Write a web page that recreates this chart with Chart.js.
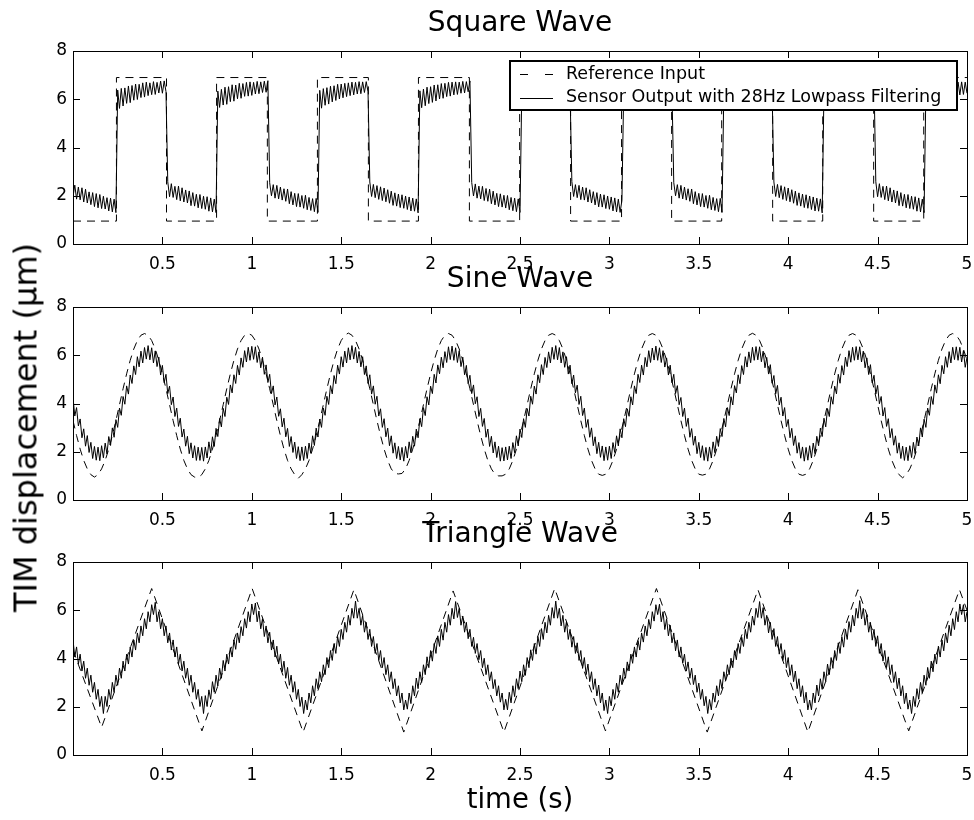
<!DOCTYPE html>
<html>
<head>
<meta charset="utf-8">
<title>TIM displacement</title>
<script src="https://cdn.jsdelivr.net/npm/chart.js"></script>
<style>
  html, body { margin: 0; padding: 0; background: #fff; }
  #page { position: relative; width: 974px; height: 820px; overflow: hidden; background: #fff; }
  #page canvas { position: absolute; left: 0; }
  #ylabel {
    position: absolute; left: -184.2px; top: 408.5px; width: 420px; height: 37px; line-height: 37px;
    text-align: center; white-space: nowrap; color: #000;
    font-family: 'DejaVu Sans', sans-serif; font-size: 32px;
    transform: rotate(-90deg);
  }
</style>
</head>
<body>
<div id="page">
  <canvas id="squareChart" width="974" height="280" style="top:0"></canvas>
  <canvas id="sineChart" width="974" height="280" style="top:256px"></canvas>
  <canvas id="triangleChart" width="974" height="309" style="top:511px"></canvas>
  <div id="ylabel">TIM displacement (μm)</div>
</div>
<script>
// axis ticks and labels
const timeTicks = [0.5, 1, 1.5, 2, 2.5, 3, 3.5, 4, 4.5, 5];
const dispTicks = [0, 2, 4, 6, 8];
const plotTitles = ['Square Wave', 'Sine Wave', 'Triangle Wave'];
const seriesNames = ['Reference Input', 'Sensor Output with 28Hz Lowpass Filtering'];

// sensor traces are sampled every 10 ms, the sine reference every 20 ms
const sensorStep = 0.01;
const sineRefStep = 0.02;

// square wave reference (corner points)
const squareRefTime = [0, 0.243, 0.243, 0.523, 0.523, 0.803, 0.803, 1.087, 1.087, 1.367, 1.367, 1.652, 1.652, 1.932, 1.932, 2.217, 2.217,
  2.498, 2.498, 2.783, 2.783, 3.068, 3.068, 3.348, 3.348, 3.628, 3.628, 3.913, 3.913, 4.193, 4.193, 4.478, 4.478, 4.758, 4.758, 5];
const squareRefValue = [0.95, 0.95, 6.9, 6.9, 0.95, 0.95, 6.9, 6.9, 0.95, 0.95, 6.9, 6.9, 0.95, 0.95, 6.9, 6.9, 0.95, 0.95,
  6.9, 6.9, 0.95, 0.95, 6.9, 6.9, 0.95, 0.95, 6.9, 6.9, 0.95, 0.95, 6.9, 6.9, 0.95, 0.95, 6.9, 6.9];

const squareSensor = [
  1.95, 2.44, 1.86, 2.36, 1.83, 2.33, 1.74, 2.27, 1.70, 2.16, 1.63, 2.13, 1.55, 2.09, 1.50, 2.05, 1.47, 1.98, 1.45, 1.92, 1.37, 1.90, 1.33, 1.86, 1.30,
  6.38, 5.62, 6.45, 5.72, 6.47, 5.83, 6.55, 5.86, 6.57, 5.96, 6.63, 5.99, 6.62, 6.07, 6.68, 6.09, 6.71, 6.15, 6.68, 6.19, 6.73, 6.20, 6.70, 6.26, 6.75, 6.25, 6.76, 6.32,
  2.58, 1.96, 2.50, 1.93, 2.39, 1.84, 2.40, 1.79, 2.33, 1.74, 2.24, 1.70, 2.20, 1.59, 2.13, 1.57, 2.06, 1.50, 2.05, 1.47, 1.98, 1.44, 1.96, 1.36, 1.91, 1.33, 1.86, 1.30,
  6.34, 5.66, 6.41, 5.76, 6.50, 5.79, 6.52, 5.90, 6.60, 5.92, 6.59, 6.02, 6.66, 6.04, 6.65, 6.12, 6.70, 6.13, 6.72, 6.16, 6.70, 6.22, 6.74, 6.23, 6.72, 6.28, 6.75, 6.29, 6.77,
  2.54, 2.00, 2.46, 1.90, 2.43, 1.87, 2.36, 1.82, 2.29, 1.77, 2.28, 1.67, 2.17, 1.62, 2.10, 1.55, 2.09, 1.53, 2.01, 1.48, 2.02, 1.42, 1.93, 1.39, 1.88, 1.34, 1.89, 1.31,
  6.37, 5.63, 6.44, 5.75, 6.48, 5.80, 6.54, 5.89, 6.56, 5.95, 6.62, 6.01, 6.63, 6.06, 6.66, 6.11, 6.68, 6.15, 6.71, 6.18, 6.70, 6.22, 6.73, 6.23, 6.72, 6.28, 6.73, 6.31,
  2.57, 1.97, 2.47, 1.92, 2.42, 1.85, 2.37, 1.80, 2.32, 1.75, 2.25, 1.69, 2.19, 1.60, 2.12, 1.57, 2.07, 1.51, 2.04, 1.48, 1.99, 1.43, 1.95, 1.37, 1.90, 1.36, 1.87, 1.29,
  6.35, 5.65, 6.42, 5.73, 6.50, 5.82, 6.52, 5.87, 6.59, 5.93, 6.60, 6.01, 6.65, 6.04, 6.66, 6.11, 6.70, 6.13, 6.71, 6.18, 6.72, 6.20, 6.71, 6.25, 6.74, 6.26, 6.73, 6.31, 6.76,
  2.55, 1.99, 2.49, 1.90, 2.40, 1.87, 2.39, 1.80, 2.30, 1.77, 2.27, 1.67, 2.19, 1.62, 2.10, 1.55, 2.08, 1.53, 2.02, 1.49, 2.01, 1.42, 1.93, 1.38, 1.90, 1.34, 1.87, 1.31,
  6.36, 5.64, 6.43, 5.74, 6.49, 5.81, 6.53, 5.88, 6.58, 5.94, 6.61, 6.00, 6.64, 6.05, 6.67, 6.10, 6.69, 6.14, 6.70, 6.17, 6.71, 6.21, 6.72, 6.24, 6.73, 6.27, 6.74, 6.30,
  2.59, 1.97, 2.46, 1.92, 2.43, 1.84, 2.36, 1.82, 2.33, 1.74, 2.25, 1.70, 2.17, 1.62, 2.13, 1.54, 2.07, 1.53, 2.04, 1.47, 1.99, 1.44, 1.95, 1.37, 1.91, 1.33, 1.86, 1.31, 1.81,
  6.38, 5.62, 6.45, 5.72, 6.47, 5.83, 6.55, 5.86, 6.57, 5.96, 6.63, 5.99, 6.62, 6.07, 6.68, 6.09, 6.71, 6.15, 6.68, 6.19, 6.73, 6.20, 6.70, 6.26, 6.75, 6.25, 6.76, 6.32,
  2.54, 2.00, 2.46, 1.90, 2.43, 1.87, 2.36, 1.82, 2.29, 1.77, 2.28, 1.67, 2.17, 1.62, 2.10, 1.55, 2.09, 1.53, 2.01, 1.48, 2.02, 1.42, 1.93, 1.39, 1.88, 1.34, 1.89, 1.31,
  6.37, 5.63, 6.44, 5.75, 6.48, 5.80, 6.54, 5.89, 6.56, 5.95, 6.62, 6.01, 6.63, 6.06, 6.66, 6.11, 6.68, 6.15, 6.71, 6.18, 6.70, 6.22, 6.73, 6.23, 6.72, 6.28, 6.73, 6.31,
  2.57, 1.97, 2.47, 1.92, 2.42, 1.85, 2.37, 1.80, 2.32, 1.75, 2.25, 1.69, 2.19, 1.60, 2.12, 1.57, 2.07, 1.51, 2.04, 1.48, 1.99, 1.43, 1.95, 1.37, 1.90, 1.36, 1.87, 1.29,
  6.34, 5.66, 6.41, 5.76, 6.50, 5.79, 6.52, 5.90, 6.60, 5.92, 6.59, 6.02, 6.66, 6.04, 6.65, 6.12, 6.70, 6.13, 6.72, 6.16, 6.70, 6.22, 6.74, 6.23, 6.72, 6.28, 6.75, 6.29, 6.77,
  2.58, 1.96, 2.50, 1.93, 2.39, 1.84, 2.40, 1.79, 2.33, 1.74, 2.24, 1.70, 2.20, 1.59, 2.13, 1.57, 2.06, 1.50, 2.05, 1.47, 1.98, 1.44, 1.96, 1.36, 1.91, 1.33, 1.86, 1.30,
  6.35, 5.65, 6.42, 5.73, 6.50, 5.82, 6.52, 5.87, 6.59, 5.93, 6.60, 6.01, 6.65, 6.04, 6.66, 6.11, 6.70, 6.13, 6.71, 6.18, 6.72, 6.20, 6.71, 6.25
];

const sineRef = [
  3.29, 2.67, 2.11, 1.64, 1.29, 1.05, 0.95,
  1.05, 1.29, 1.64, 2.11, 2.67, 3.29, 3.95, 4.61, 5.23, 5.79, 6.26, 6.61, 6.83, 6.90,
  6.83, 6.61, 6.26, 5.79, 5.23, 4.61, 3.95, 3.29, 2.67, 2.11, 1.64, 1.29, 1.05, 0.95,
  0.93,
  1.05, 1.29, 1.64, 2.11, 2.67, 3.29, 3.95, 4.61, 5.23, 5.79, 6.26, 6.61, 6.83, 6.90,
  6.83, 6.61, 6.26, 5.79, 5.23, 4.61, 3.95, 3.29, 2.67, 2.11, 1.64, 1.29, 1.05, 0.90,
  1.05, 1.29, 1.64, 2.11, 2.67, 3.29, 3.95, 4.61, 5.23, 5.79, 6.26, 6.61, 6.83, 6.92,
  6.83, 6.61, 6.26, 5.79, 5.23, 4.61, 3.95, 3.29, 2.67, 2.11, 1.64, 1.29, 1.10, 1.08,
  1.10, 1.29, 1.64, 2.11, 2.67, 3.29, 3.95, 4.61, 5.23, 5.79, 6.26, 6.61, 6.83, 6.90,
  6.83, 6.61, 6.26, 5.79, 5.23, 4.61, 3.95, 3.29, 2.67, 2.11, 1.64, 1.29, 1.07, 1.00,
  1.00,
  1.07, 1.29, 1.64, 2.11, 2.67, 3.29, 3.95, 4.61, 5.23, 5.79, 6.26, 6.61, 6.83, 6.90,
  6.83, 6.61, 6.26, 5.79, 5.23, 4.61, 3.95, 3.29, 2.67, 2.11, 1.64, 1.29, 1.07, 1.02,
  1.07, 1.29, 1.64, 2.11, 2.67, 3.29, 3.95, 4.61, 5.23, 5.79, 6.26, 6.61, 6.83, 6.90,
  6.83, 6.61, 6.26, 5.79, 5.23, 4.61, 3.95, 3.29, 2.67, 2.11, 1.64, 1.29, 1.07, 1.03,
  1.07, 1.29, 1.64, 2.11, 2.67, 3.29, 3.95, 4.61, 5.23, 5.79, 6.26, 6.61, 6.83, 6.91,
  6.83, 6.61, 6.26, 5.79, 5.23, 4.61, 3.95, 3.29, 2.67, 2.11, 1.64, 1.29, 1.07, 1.02,
  1.07, 1.29, 1.64, 2.11, 2.67, 3.29, 3.95, 4.61, 5.23, 5.79, 6.26, 6.61, 6.83, 6.90,
  6.83, 6.61, 6.26, 5.79, 5.23, 4.61, 3.95, 3.29, 2.67, 2.11, 1.64, 1.29, 1.05, 0.92,
  1.05, 1.29, 1.64, 2.11, 2.67, 3.29, 3.95, 4.61, 5.23, 5.79, 6.26, 6.61, 6.83, 6.90,
  6.83, 6.61, 6.26, 5.79
];

const sineSensor = [
  4.25, 3.48, 3.83, 3.07, 3.36, 2.58, 2.95, 2.23, 2.67, 1.97, 2.39, 1.72, 2.22, 1.65, 2.19,
  1.63, 2.25, 1.75, 2.36, 1.91, 2.63, 2.26, 2.99, 2.60, 3.33, 3.01, 3.81, 3.51, 4.29, 3.97, 4.73, 4.39, 5.18, 4.83, 5.56, 5.20, 5.94, 5.52, 6.17, 5.68, 6.32, 5.84, 6.40,
  5.81, 6.31, 5.68, 6.18, 5.53, 5.92, 5.18, 5.58, 4.86, 5.21, 4.41, 4.72, 3.95, 4.27, 3.46, 3.81, 3.05, 3.39, 2.61, 2.94, 2.23, 2.64, 1.92, 2.37, 1.74, 2.25, 1.64, 2.19, 1.64,
  2.18, 1.61, 2.20, 1.74, 2.41, 1.95, 2.62, 2.22, 2.97, 2.63, 3.38, 3.03, 3.80, 3.46, 4.26, 3.96, 4.77, 4.44, 5.19, 4.83, 5.58, 5.18, 5.89, 5.50, 6.19, 5.72, 6.33, 5.79, 6.37,
  5.83, 6.35, 5.70, 6.14, 5.48, 5.92, 5.21, 5.60, 4.87, 5.21, 4.41, 4.73, 3.94, 4.27, 3.47, 3.78, 3.03, 3.39, 2.62, 2.97, 2.22, 2.63, 1.97, 2.40, 1.72, 2.21, 1.63, 2.20,
  1.64, 2.23, 1.72, 2.36, 1.94, 2.66, 2.26, 2.98, 2.61, 3.35, 3.01, 3.81, 3.51, 4.30, 3.96, 4.74, 4.40, 5.16, 4.82, 5.59, 5.22, 5.94, 5.51, 6.17, 5.68, 6.31, 5.81, 6.40,
  5.84, 6.33, 5.68, 6.16, 5.52, 5.94, 5.20, 5.56, 4.83, 5.19, 4.39, 4.73, 3.97, 4.30, 3.48, 3.78, 3.01, 3.37, 2.62, 2.98, 2.25, 2.66, 1.94, 2.37, 1.72, 2.22, 1.66, 2.18,
  1.61, 2.22, 1.74, 2.41, 1.96, 2.64, 2.23, 2.94, 2.58, 3.37, 3.04, 3.83, 3.50, 4.28, 3.94, 4.72, 4.41, 5.21, 4.85, 5.60, 5.23, 5.92, 5.48, 6.15, 5.70, 6.35, 5.82, 6.38,
  5.79, 6.31, 5.70, 6.19, 5.53, 5.92, 5.19, 5.58, 4.82, 5.17, 4.41, 4.77, 3.99, 4.28, 3.46, 3.80, 3.05, 3.38, 2.60, 2.94, 2.22, 2.64, 1.95, 2.41, 1.76, 2.23, 1.61, 2.17, 1.62,
  2.20, 1.66, 2.23, 1.72, 2.38, 1.96, 2.66, 2.24, 2.94, 2.59, 3.37, 3.01, 3.79, 3.48, 4.30, 3.97, 4.72, 4.39, 5.19, 4.86, 5.61, 5.20, 5.91, 5.49, 6.14, 5.68, 6.33, 5.83, 6.40,
  5.81, 6.32, 5.68, 6.14, 5.50, 5.94, 5.22, 5.59, 4.82, 5.18, 4.44, 4.76, 3.96, 4.30, 3.50, 3.81, 3.01, 3.34, 2.60, 2.99, 2.25, 2.62, 1.92, 2.39, 1.77, 2.24, 1.63, 2.20,
  1.65, 2.23, 1.72, 2.38, 1.97, 2.66, 2.24, 2.95, 2.58, 3.37, 3.04, 3.78, 3.47, 4.28, 3.94, 4.73, 4.41, 5.21, 4.87, 5.59, 5.18, 5.91, 5.52, 6.19, 5.70, 6.30, 5.80, 6.38,
  5.79, 6.31, 5.70, 6.19, 5.51, 5.89, 5.18, 5.59, 4.86, 5.21, 4.41, 4.74, 3.95, 4.25, 3.46, 3.81, 3.05, 3.39, 2.60, 2.96, 2.27, 2.65, 1.92, 2.39, 1.76, 2.25, 1.64, 2.18,
  1.61, 2.20, 1.74, 2.41, 1.96, 2.64, 2.22, 2.96, 2.63, 3.38, 3.03, 3.83, 3.50, 4.28, 3.94, 4.74, 4.44, 5.19, 4.82, 5.57, 5.20, 5.94, 5.51, 6.14, 5.69, 6.33, 5.79, 6.36,
  5.81, 6.35, 5.73, 6.17, 5.48, 5.91, 5.22, 5.61, 4.84, 5.16, 4.40, 4.75, 3.94, 4.26, 3.48, 3.83, 3.04, 3.34, 2.58, 2.97, 2.26, 2.66, 1.94, 2.38, 1.73, 2.20, 1.61, 2.18,
  1.65, 2.25, 1.74, 2.36, 1.92, 2.64, 2.25, 2.98, 2.63, 3.39, 3.03, 3.79, 3.46, 4.28, 3.97, 4.72, 4.40, 5.21, 4.84, 5.57, 5.18, 5.92, 5.53, 6.19, 5.71, 6.33, 5.79, 6.36,
  5.81, 6.35, 5.72, 6.17, 5.48, 5.89, 5.20, 5.61, 4.85, 5.17, 4.39, 4.75, 3.99, 4.29, 3.48, 3.83, 3.05, 3.37, 2.58, 2.96, 2.27, 2.66, 1.94, 2.37, 1.72, 2.23, 1.64, 2.19,
  1.63, 2.25, 1.76, 2.39, 1.92, 2.61, 2.24, 2.99, 2.61, 3.35, 3.01, 3.81, 3.51, 4.29, 3.96, 4.77, 4.43, 5.19, 4.82, 5.58, 5.23, 5.94, 5.50, 6.15, 5.68, 6.33, 5.82, 6.35,
  5.79, 6.33, 5.72, 6.19, 5.50, 5.91
];

// triangle wave reference (corner points)
const triangleRefTime = [0, 0.16, 0.44, 0.721, 1.002, 1.287, 1.571, 1.85, 2.126, 2.41, 2.694, 2.978, 3.263, 3.547, 3.831, 4.11, 4.39, 4.674, 4.958, 5];
const triangleRefValue = [4.35, 1.15, 6.9, 1.0, 6.9, 0.95, 6.85, 0.95, 6.8, 0.95, 6.9, 1.0, 6.9, 0.95, 6.85, 0.95, 6.85, 1.0, 6.85, 6.0];

const triangleSensor = [
  4.77, 4.06, 4.48, 3.77, 4.18, 3.48, 3.89, 3.18, 3.60, 2.89, 3.31, 2.60, 3.01, 2.31, 2.72, 2.01, 2.43, 1.72,
  2.43, 2.01, 2.72, 2.31, 3.01, 2.60, 3.31, 2.89, 3.60, 3.18, 3.89, 3.48, 4.18, 3.77, 4.48, 4.06, 4.77, 4.35, 5.06, 4.65, 5.35, 4.94, 5.65, 5.23, 5.94, 5.52, 6.23, 5.82,
  6.33, 5.52, 5.94, 5.23, 5.65, 4.94, 5.35, 4.65, 5.06, 4.35, 4.77, 4.06, 4.48, 3.77, 4.18, 3.48, 3.89, 3.18, 3.60, 2.89, 3.31, 2.60, 3.01, 2.31, 2.72, 2.01, 2.43, 1.72,
  2.46, 2.01, 2.70, 2.31, 3.04, 2.60, 3.31, 2.86, 3.60, 3.18, 3.92, 3.48, 4.18, 3.77, 4.45, 4.06, 4.77, 4.38, 5.06, 4.65, 5.32, 4.94, 5.65, 5.26, 5.94, 5.52, 6.26, 5.82,
  6.30, 5.52, 5.97, 5.23, 5.65, 4.91, 5.35, 4.65, 5.09, 4.35, 4.77, 4.06, 4.51, 3.77, 4.18, 3.45, 3.89, 3.18, 3.63, 2.89, 3.31, 2.60, 3.04, 2.31, 2.72, 2.01, 2.40, 1.72, 2.28,
  1.87, 2.57, 2.16, 2.87, 2.45, 3.16, 2.75, 3.45, 3.04, 3.74, 3.33, 4.04, 3.62, 4.33, 3.92, 4.62, 4.21, 4.91, 4.50, 5.21, 4.79, 5.50, 5.09, 5.79, 5.38, 6.08, 5.67, 6.38,
  5.67, 6.08, 5.38, 5.79, 5.09, 5.50, 4.79, 5.21, 4.50, 4.91, 4.21, 4.62, 3.92, 4.33, 3.62, 4.04, 3.33, 3.74, 3.04, 3.45, 2.75, 3.16, 2.45, 2.87, 2.16, 2.57, 1.87, 2.28,
  1.90, 2.57, 2.13, 2.87, 2.45, 3.19, 2.75, 3.45, 3.01, 3.74, 3.33, 4.07, 3.62, 4.33, 3.89, 4.62, 4.21, 4.94, 4.50, 5.21, 4.76, 5.50, 5.09, 5.82, 5.38, 6.08, 5.64, 6.36,
  5.70, 6.08, 5.38, 5.76, 5.09, 5.50, 4.82, 5.21, 4.50, 4.88, 4.21, 4.62, 3.95, 4.33, 3.62, 4.01, 3.33, 3.74, 3.07, 3.45, 2.75, 3.13, 2.45, 2.87, 2.19, 2.57, 1.87, 2.31,
  1.87, 2.60, 2.16, 2.87, 2.42, 3.16, 2.75, 3.48, 3.04, 3.74, 3.30, 4.04, 3.62, 4.36, 3.92, 4.62, 4.18, 4.91, 4.50, 5.24, 4.79, 5.50, 5.06, 5.79, 5.38, 6.11, 5.67, 6.38,
  5.67, 6.08, 5.35, 5.79, 5.09, 5.53, 4.79, 5.21, 4.47, 4.91, 4.21, 4.65, 3.92, 4.33, 3.59, 4.04, 3.33, 3.77, 3.04, 3.45, 2.72, 3.16, 2.45, 2.90, 2.16, 2.57, 1.84, 2.28, 1.72,
  2.43, 2.04, 2.72, 2.31, 2.98, 2.60, 3.31, 2.92, 3.60, 3.18, 3.86, 3.48, 4.18, 3.80, 4.48, 4.06, 4.74, 4.35, 5.06, 4.68, 5.35, 4.94, 5.62, 5.23, 5.94, 5.55, 6.23, 5.82,
  6.25, 5.52, 5.94, 5.20, 5.65, 4.94, 5.38, 4.65, 5.06, 4.32, 4.77, 4.06, 4.48, 3.80, 4.18, 3.48, 3.86, 3.18, 3.60, 2.92, 3.31, 2.60, 2.98, 2.31, 2.72, 2.04, 2.43, 1.72, 2.30,
  1.87, 2.57, 2.19, 2.87, 2.45, 3.13, 2.75, 3.45, 3.07, 3.74, 3.33, 4.01, 3.62, 4.33, 3.95, 4.62, 4.21, 4.88, 4.50, 5.21, 4.82, 5.50, 5.09, 5.76, 5.38, 6.08, 5.70, 6.36,
  5.67, 6.11, 5.38, 5.79, 5.06, 5.50, 4.79, 5.24, 4.50, 4.91, 4.18, 4.62, 3.92, 4.36, 3.62, 4.04, 3.30, 3.74, 3.04, 3.48, 2.75, 3.16, 2.42, 2.87, 2.16, 2.60, 1.87, 2.28,
  1.87, 2.57, 2.16, 2.90, 2.45, 3.16, 2.72, 3.45, 3.04, 3.77, 3.33, 4.04, 3.59, 4.33, 3.92, 4.65, 4.21, 4.91, 4.47, 5.21, 4.79, 5.53, 5.09, 5.79, 5.35, 6.08, 5.67, 6.40,
  5.64, 6.08, 5.38, 5.82, 5.09, 5.50, 4.76, 5.21, 4.50, 4.94, 4.21, 4.62, 3.89, 4.33, 3.62, 4.07, 3.33, 3.74, 3.01, 3.45, 2.75, 3.19, 2.45, 2.87, 2.13, 2.57, 1.90, 2.28,
  1.72, 2.43, 2.01, 2.75, 2.31, 3.01, 2.57, 3.31, 2.89, 3.63, 3.18, 3.89, 3.45, 4.18, 3.77, 4.51, 4.06, 4.77, 4.32, 5.06, 4.65, 5.38, 4.94, 5.65, 5.20, 5.94, 5.52, 6.26, 5.82,
  6.23, 5.52, 5.94
];

function sampled(values, step) {
  return values.map((v, i) => ({ x: +(i * step).toFixed(3), y: v }));
}
function paired(times, values) {
  return times.map((t, i) => ({ x: t, y: values[i] }));
}

Chart.defaults.font.family = "'DejaVu Sans', sans-serif";
Chart.defaults.color = '#000';

// MATLAB style box with inward ticks on all four sides
const axesBox = {
  id: 'axesBox',
  afterDatasetsDraw(chart) {
    const { ctx, chartArea: a, scales: { x, y } } = chart;
    const tick = 7;
    ctx.save();
    ctx.strokeStyle = '#000';
    ctx.lineWidth = 1;
    ctx.beginPath();
    timeTicks.forEach(v => {
      const px = Math.round(x.getPixelForValue(v)) + 0.5;
      ctx.moveTo(px, a.bottom); ctx.lineTo(px, a.bottom - tick);
      ctx.moveTo(px, a.top); ctx.lineTo(px, a.top + tick);
    });
    dispTicks.forEach(v => {
      const py = Math.round(y.getPixelForValue(v)) + 0.5;
      ctx.moveTo(a.left, py); ctx.lineTo(a.left + tick, py);
      ctx.moveTo(a.right, py); ctx.lineTo(a.right - tick, py);
    });
    ctx.stroke();
    ctx.strokeRect(Math.round(a.left) + 0.5, Math.round(a.top) + 0.5,
      Math.round(a.right - a.left), Math.round(a.bottom - a.top));
    ctx.restore();
  }
};

// framed legend drawn over the data, top right of the first axes
const boxLegend = {
  id: 'boxLegend',
  afterDraw(chart) {
    const { ctx, chartArea: a } = chart;
    const w = 447, h = 49;
    const left = Math.round(a.right) - 10 - w;
    const top = Math.round(a.top) + 10;
    ctx.save();
    ctx.fillStyle = '#fff';
    ctx.fillRect(left, top, w, h);
    ctx.strokeStyle = '#000';
    ctx.lineWidth = 2;
    ctx.strokeRect(left, top, w, h);
    ctx.lineWidth = 1;
    ctx.font = "17.5px 'DejaVu Sans'";
    ctx.fillStyle = '#000';
    ctx.textBaseline = 'middle';
    chart.data.datasets.forEach((ds, i) => {
      const ry = top + 13 + i * 23.5;
      ctx.setLineDash(ds.borderDash ? [8, 17] : []);
      ctx.beginPath();
      ctx.moveTo(left + 10, Math.round(ry) + 0.5);
      ctx.lineTo(left + 43, Math.round(ry) + 0.5);
      ctx.stroke();
      ctx.setLineDash([]);
      ctx.fillText(ds.label, left + 56, ry);
    });
    ctx.restore();
  }
};

function makeChart(id, title, refData, sensorData, opts) {
  return new Chart(document.getElementById(id), {
    type: 'line',
    data: {
      datasets: [
        { label: seriesNames[0], data: refData, borderColor: '#000', borderWidth: 1, borderDash: [8, 6], pointRadius: 0, fill: false },
        { label: seriesNames[1], data: sensorData, borderColor: '#000', borderWidth: 1, pointRadius: 0, fill: false }
      ]
    },
    options: {
      responsive: false,
      animation: false,
      devicePixelRatio: 1,
      layout: { padding: { left: 0, right: 7, top: 0, bottom: 0 } },
      plugins: {
        legend: { display: false },
        tooltip: { enabled: false },
        title: {
          display: true, text: title, fullSize: false, color: '#000',
          font: { size: 28, weight: 'normal' }, padding: { top: 7, bottom: 10.4 }
        }
      },
      scales: {
        x: {
          type: 'linear', min: 0, max: 5,
          afterBuildTicks: s => { s.ticks = timeTicks.map(v => ({ value: v })); },
          afterFit: s => { s.height = opts.xHeight; s.paddingLeft = 0; s.paddingRight = 0; },
          ticks: { color: '#000', font: { size: 17 }, padding: 10, maxRotation: 0, autoSkip: false, callback: v => String(v) },
          grid: { display: false, drawTicks: false },
          border: { display: false },
          title: opts.xTitle
            ? { display: true, text: opts.xTitle, color: '#000', font: { size: 27.5 }, padding: { top: 0, bottom: 3 } }
            : { display: false }
        },
        y: {
          type: 'linear', min: 0, max: 8,
          afterBuildTicks: s => { s.ticks = dispTicks.map(v => ({ value: v })); },
          afterFit: s => { s.width = 73; },
          ticks: { color: '#000', font: { size: 17 }, padding: 6, callback: v => String(v) },
          grid: { display: false, drawTicks: false },
          border: { display: false }
        }
      }
    },
    plugins: opts.legend ? [axesBox, boxLegend] : [axesBox]
  });
}

makeChart('squareChart', plotTitles[0], paired(squareRefTime, squareRefValue), sampled(squareSensor, sensorStep), { xHeight: 36, legend: true });
makeChart('sineChart', plotTitles[1], sampled(sineRef, sineRefStep), sampled(sineSensor, sensorStep), { xHeight: 36 });
makeChart('triangleChart', plotTitles[2], paired(triangleRefTime, triangleRefValue), sampled(triangleSensor, sensorStep), { xHeight: 65, xTitle: 'time (s)' });

[squareSensor, sineSensor, triangleSensor].forEach((s, i) => {
  if (s.length !== 501) console.warn('sensor series ' + i + ' has ' + s.length + ' samples');
});
if (sineRef.length !== 251) console.warn('sine reference has ' + sineRef.length + ' samples');
</script>
</body>
</html>
